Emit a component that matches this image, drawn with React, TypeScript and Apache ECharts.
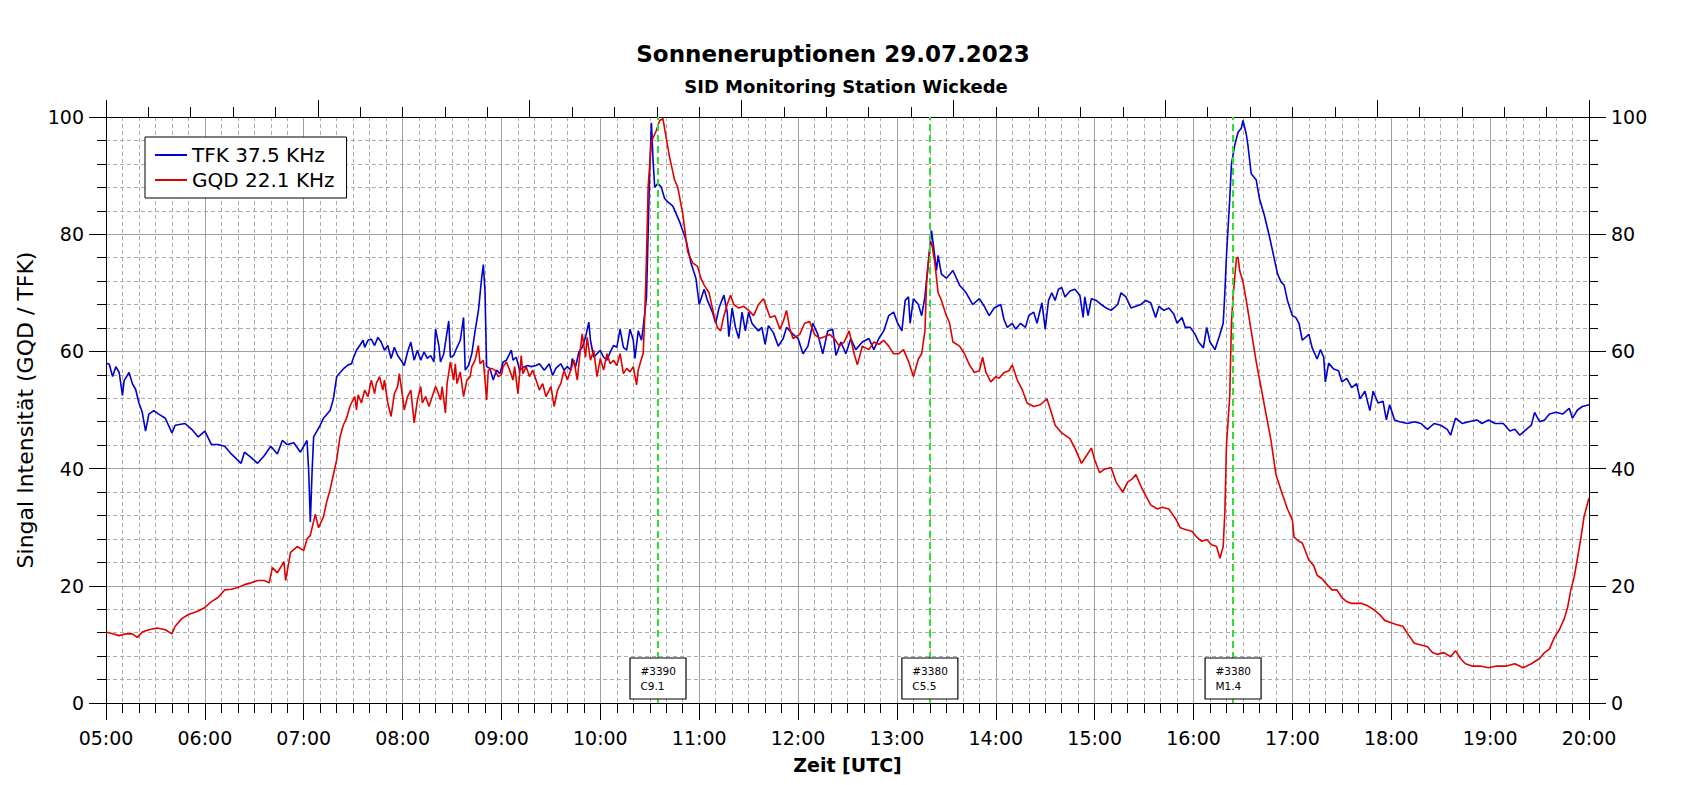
import React, { useEffect, useRef } from 'react';
import * as echarts from 'echarts';

const FONT = '"DejaVu Sans", Verdana, sans-serif';

// TFK 37.5 KHz as [UTC time, intensity]
const tfk: [string, number][] = [
  ['05:00', 58.0], ['05:02', 57.8], ['05:04', 55.7], ['05:06', 57.4], ['05:08', 56.4], ['05:10', 52.5],
  ['05:11', 55.0], ['05:14', 56.4], ['05:16', 54.5], ['05:18', 53.5], ['05:20', 51.2], ['05:22', 49.6],
  ['05:24', 46.4], ['05:26', 49.3], ['05:29', 49.9], ['05:32', 49.3], ['05:36', 48.6], ['05:40', 46.1],
  ['05:42', 47.4], ['05:48', 47.7], ['05:52', 46.7], ['05:56', 45.4], ['06:00', 46.4], ['06:04', 44.1],
  ['06:08', 44.1], ['06:12', 43.8], ['06:16', 42.5], ['06:22', 40.9], ['06:24', 42.8], ['06:28', 41.9],
  ['06:32', 40.9], ['06:36', 42.2], ['06:40', 43.8], ['06:44', 42.5], ['06:47', 44.8], ['06:50', 44.1],
  ['06:54', 44.4], ['06:58', 42.8], ['07:02', 44.8], ['07:03', 39.6], ['07:04', 30.9], ['07:05', 39.0],
  ['07:06', 45.4], ['07:08', 46.4], ['07:10', 47.4], ['07:12', 48.6], ['07:16', 49.9], ['07:18', 51.9],
  ['07:20', 55.7], ['07:24', 57.0], ['07:27', 57.7], ['07:29', 57.9], ['07:30', 58.8], ['07:32', 60.2],
  ['07:34', 61.0], ['07:36', 61.9], ['07:37', 60.7], ['07:39', 61.9], ['07:41', 62.1], ['07:43', 61.0],
  ['07:45', 62.4], ['07:47', 61.6], ['07:49', 60.2], ['07:51', 61.0], ['07:53', 58.8], ['07:55', 60.7],
  ['07:57', 59.3], ['07:59', 58.5], ['08:01', 57.6], ['08:03', 59.9], ['08:05', 61.6], ['08:07', 58.5],
  ['08:09', 60.2], ['08:11', 58.5], ['08:13', 59.9], ['08:15', 58.8], ['08:17', 59.3], ['08:19', 58.2],
  ['08:20', 63.8], ['08:22', 61.0], ['08:23', 58.2], ['08:25', 59.6], ['08:28', 65.2], ['08:29', 59.0],
  ['08:31', 59.3], ['08:33', 60.7], ['08:35', 61.9], ['08:37', 65.8], ['08:38', 56.8], ['08:40', 57.6],
  ['08:42', 59.6], ['08:44', 63.5], ['08:46', 66.9], ['08:48', 72.6], ['08:49', 74.8], ['08:50', 70.3],
  ['08:51', 57.4], ['08:53', 57.1], ['08:55', 55.1], ['08:57', 56.8], ['08:59', 56.2], ['09:01', 58.2],
  ['09:03', 58.5], ['09:06', 60.2], ['09:07', 58.5], ['09:09', 59.0], ['09:11', 56.8], ['09:14', 57.4],
  ['09:16', 57.6], ['09:18', 57.4], ['09:21', 57.6], ['09:23', 57.9], ['09:26', 56.8], ['09:29', 57.9],
  ['09:31', 55.9], ['09:33', 57.1], ['09:36', 57.9], ['09:38', 56.8], ['09:40', 57.4], ['09:42', 56.8],
  ['09:43', 58.8], ['09:45', 57.4], ['09:47', 59.9], ['09:49', 60.7], ['09:51', 62.4], ['09:53', 65.0],
  ['09:54', 61.9], ['09:56', 59.0], ['09:58', 59.6], ['10:00', 60.2], ['10:02', 59.0], ['10:04', 58.5],
  ['10:06', 59.9], ['10:08', 61.0], ['10:10', 60.7], ['10:12', 63.8], ['10:14', 60.7], ['10:16', 60.2],
  ['10:18', 63.8], ['10:20', 61.9], ['10:21', 58.8], ['10:23', 63.5], ['10:25', 61.9], ['10:26', 64.1],
  ['10:28', 69.2], ['10:29', 80.0], ['10:30', 91.3], ['10:31', 99.0], ['10:32', 92.6], ['10:33', 88.0],
  ['10:35', 88.7], ['10:37', 88.0], ['10:39', 86.1], ['10:41', 85.5], ['10:44', 84.8], ['10:48', 82.2],
  ['10:52', 79.0], ['10:55', 75.1], ['10:58', 72.5], ['11:00', 68.0], ['11:03', 70.6], ['11:05', 68.7],
  ['11:08', 66.7], ['11:10', 64.8], ['11:12', 67.4], ['11:15', 69.6], ['11:17', 66.7], ['11:18', 62.5],
  ['11:20', 67.4], ['11:22', 64.1], ['11:24', 62.2], ['11:26', 66.7], ['11:28', 63.5], ['11:30', 66.7],
  ['11:32', 64.8], ['11:34', 64.1], ['11:36', 63.5], ['11:38', 64.1], ['11:40', 61.2], ['11:42', 64.4],
  ['11:45', 63.2], ['11:48', 60.9], ['11:51', 62.2], ['11:53', 64.1], ['11:57', 62.9], ['12:00', 62.2],
  ['12:03', 59.6], ['12:06', 60.9], ['12:09', 64.8], ['12:12', 62.9], ['12:15', 59.6], ['12:18', 63.5],
  ['12:21', 63.8], ['12:23', 59.3], ['12:26', 61.6], ['12:29', 59.6], ['12:32', 62.2], ['12:35', 60.3],
  ['12:39', 61.6], ['12:43', 62.2], ['12:46', 60.3], ['12:49', 62.2], ['12:52', 63.5], ['12:55', 66.1],
  ['12:58', 66.7], ['13:00', 65.1], ['13:03', 63.5], ['13:05', 68.7], ['13:07', 69.3], ['13:08', 64.8],
  ['13:10', 69.0], ['13:13', 68.0], ['13:15', 66.1], ['13:17', 69.3], ['13:19', 75.1], ['13:21', 80.6],
  ['13:22', 78.4], ['13:24', 73.8], ['13:25', 76.4], ['13:27', 73.2], ['13:30', 72.5], ['13:34', 73.8],
  ['13:38', 71.3], ['13:42', 70.0], ['13:46', 68.0], ['13:50', 69.0], ['13:53', 67.7], ['13:56', 66.1],
  ['13:59', 67.4], ['14:03', 68.0], ['14:05', 65.4], ['14:07', 64.1], ['14:10', 64.8], ['14:12', 63.8],
  ['14:15', 64.8], ['14:18', 64.1], ['14:20', 66.1], ['14:23', 66.7], ['14:25', 64.8], ['14:28', 68.3],
  ['14:30', 63.8], ['14:32', 68.7], ['14:34', 70.0], ['14:36', 68.7], ['14:38', 70.6], ['14:40', 70.9],
  ['14:42', 69.3], ['14:45', 70.3], ['14:48', 70.6], ['14:51', 69.6], ['14:53', 65.8], ['14:54', 69.3],
  ['14:56', 66.1], ['14:58', 69.0], ['15:01', 68.7], ['15:04', 68.0], ['15:07', 67.4], ['15:10', 67.0],
  ['15:14', 68.0], ['15:16', 70.0], ['15:19', 69.3], ['15:22', 67.4], ['15:25', 67.7], ['15:28', 68.0],
  ['15:31', 68.7], ['15:34', 68.3], ['15:37', 65.8], ['15:39', 67.7], ['15:42', 67.0], ['15:45', 67.4],
  ['15:48', 66.4], ['15:50', 64.8], ['15:53', 65.8], ['15:55', 64.1], ['15:58', 64.1], ['16:01', 62.9],
  ['16:03', 61.6], ['16:06', 60.6], ['16:08', 64.1], ['16:10', 61.6], ['16:13', 60.3], ['16:16', 62.9],
  ['16:18', 64.8], ['16:19', 70.0], ['16:20', 76.4], ['16:22', 86.1], ['16:23', 91.9], ['16:25', 95.2],
  ['16:27', 97.4], ['16:29', 98.1], ['16:30', 99.4], ['16:32', 97.1], ['16:33', 95.2], ['16:35', 90.3],
  ['16:38', 89.3], ['16:40', 86.1], ['16:43', 83.2], ['16:46', 79.7], ['16:49', 75.8], ['16:51', 73.2],
  ['16:53', 71.9], ['16:55', 71.3], ['16:57', 68.7], ['17:00', 66.1], ['17:02', 65.8], ['17:04', 64.8],
  ['17:06', 61.9], ['17:10', 62.9], ['17:12', 60.6], ['17:15', 58.7], ['17:17', 60.3], ['17:19', 59.0],
  ['17:20', 54.8], ['17:22', 58.0], ['17:25', 57.0], ['17:28', 56.7], ['17:30', 54.8], ['17:33', 55.4],
  ['17:36', 53.8], ['17:39', 54.5], ['17:41', 51.9], ['17:44', 53.2], ['17:47', 49.9], ['17:49', 53.2],
  ['17:52', 51.2], ['17:55', 51.5], ['17:57', 48.3], ['17:59', 50.9], ['18:02', 48.3], ['18:05', 48.0],
  ['18:10', 47.7], ['18:14', 48.0], ['18:18', 47.7], ['18:22', 46.7], ['18:26', 47.7], ['18:30', 47.4],
  ['18:34', 46.7], ['18:36', 45.7], ['18:39', 48.6], ['18:43', 47.7], ['18:47', 48.0], ['18:52', 48.3],
  ['18:55', 47.7], ['18:59', 48.3], ['19:03', 47.7], ['19:08', 47.7], ['19:12', 46.4], ['19:15', 46.7],
  ['19:18', 45.7], ['19:22', 46.7], ['19:25', 47.4], ['19:27', 49.6], ['19:30', 48.0], ['19:33', 48.3],
  ['19:36', 49.3], ['19:40', 49.6], ['19:44', 49.3], ['19:48', 50.3], ['19:50', 48.6], ['19:53', 50.0],
  ['19:56', 50.6], ['20:00', 50.9],
];

// GQD 22.1 KHz
const gqd: [string, number][] = [
  ['05:00', 12.1], ['05:04', 11.8], ['05:08', 11.5], ['05:12', 11.8], ['05:16', 11.8], ['05:19', 11.2],
  ['05:22', 12.1], ['05:26', 12.5], ['05:31', 12.8], ['05:36', 12.5], ['05:40', 11.8], ['05:42', 13.1],
  ['05:46', 14.4], ['05:50', 15.1], ['05:56', 15.7], ['06:00', 16.3], ['06:04', 17.3], ['06:08', 18.0],
  ['06:12', 19.3], ['06:16', 19.4], ['06:20', 19.7], ['06:24', 20.2], ['06:28', 20.5], ['06:32', 20.9],
  ['06:36', 20.9], ['06:39', 20.5], ['06:41', 23.1], ['06:44', 22.2], ['06:48', 24.1], ['06:49', 20.9],
  ['06:52', 25.7], ['06:56', 26.7], ['07:00', 26.0], ['07:02', 28.0], ['07:04', 28.6], ['07:07', 32.2],
  ['07:09', 29.9], ['07:12', 31.8], ['07:14', 34.4], ['07:16', 36.4], ['07:18', 39.0], ['07:20', 41.5],
  ['07:22', 45.4], ['07:24', 47.4], ['07:26', 48.6], ['07:28', 50.6], ['07:29', 51.2], ['07:31', 52.3],
  ['07:32', 50.0], ['07:33', 52.6], ['07:35', 51.2], ['07:37', 53.4], ['07:39', 52.3], ['07:41', 55.1],
  ['07:43', 52.8], ['07:44', 54.5], ['07:46', 55.7], ['07:48', 53.4], ['07:49', 55.1], ['07:51', 51.2],
  ['07:53', 48.9], ['07:55', 52.8], ['07:57', 54.0], ['07:58', 56.2], ['08:00', 52.3], ['08:01', 50.0],
  ['08:03', 52.3], ['08:05', 53.4], ['08:07', 47.8], ['08:09', 51.7], ['08:11', 54.0], ['08:12', 51.2],
  ['08:14', 52.3], ['08:16', 50.6], ['08:18', 52.3], ['08:20', 54.0], ['08:21', 53.4], ['08:23', 51.7],
  ['08:24', 54.0], ['08:26', 49.5], ['08:27', 54.5], ['08:29', 58.2], ['08:31', 55.1], ['08:32', 57.9],
  ['08:33', 54.5], ['08:35', 56.5], ['08:37', 52.3], ['08:39', 55.1], ['08:41', 55.7], ['08:42', 57.4],
  ['08:44', 58.5], ['08:46', 61.0], ['08:47', 57.9], ['08:49', 58.5], ['08:51', 51.7], ['08:52', 56.8],
  ['08:54', 57.1], ['08:56', 56.8], ['08:58', 55.7], ['09:00', 56.0], ['09:01', 57.4], ['09:03', 58.2],
  ['09:05', 56.8], ['09:07', 55.1], ['09:08', 57.4], ['09:10', 52.8], ['09:12', 59.3], ['09:13', 56.2],
  ['09:15', 57.4], ['09:17', 55.7], ['09:19', 56.8], ['09:21', 55.1], ['09:23', 53.4], ['09:25', 54.5],
  ['09:27', 52.3], ['09:30', 54.0], ['09:32', 50.6], ['09:34', 53.4], ['09:36', 54.5], ['09:38', 56.8],
  ['09:40', 55.1], ['09:42', 56.8], ['09:44', 58.5], ['09:46', 55.1], ['09:48', 60.7], ['09:49', 63.0],
  ['09:51', 59.0], ['09:52', 62.4], ['09:54', 58.5], ['09:56', 60.2], ['09:58', 55.7], ['10:00', 58.8],
  ['10:02', 56.8], ['10:04', 59.6], ['10:06', 57.9], ['10:08', 58.5], ['10:10', 57.6], ['10:12', 59.6],
  ['10:14', 56.2], ['10:16', 57.1], ['10:18', 56.5], ['10:20', 57.4], ['10:22', 54.3], ['10:23', 56.8],
  ['10:25', 58.8], ['10:26', 59.6], ['10:27', 66.4], ['10:28', 76.0], ['10:29', 88.0], ['10:31', 95.8],
  ['10:34', 97.7], ['10:36', 99.4], ['10:38', 99.7], ['10:40', 96.4], ['10:42', 93.2], ['10:45', 89.3],
  ['10:47', 88.0], ['10:50', 83.5], ['10:53', 77.0], ['10:56', 75.1], ['10:59', 74.5], ['11:01', 72.5],
  ['11:03', 71.3], ['11:06', 70.0], ['11:09', 66.1], ['11:11', 64.1], ['11:13', 63.5], ['11:15', 66.1],
  ['11:17', 68.0], ['11:19', 69.6], ['11:21', 68.0], ['11:24', 67.4], ['11:27', 67.7], ['11:30', 67.0],
  ['11:33', 66.1], ['11:36', 68.0], ['11:39', 69.0], ['11:41', 67.4], ['11:43', 65.8], ['11:46', 66.1],
  ['11:49', 63.8], ['11:51', 65.1], ['11:53', 67.0], ['11:55', 63.8], ['11:57', 62.2], ['12:01', 62.9],
  ['12:04', 64.8], ['12:07', 65.1], ['12:10', 62.9], ['12:13', 62.2], ['12:16', 62.5], ['12:19', 62.9],
  ['12:22', 62.2], ['12:25', 60.9], ['12:28', 61.6], ['12:31', 63.5], ['12:34', 59.6], ['12:36', 57.7],
  ['12:39', 60.9], ['12:43', 60.3], ['12:46', 61.6], ['12:49', 61.2], ['12:52', 61.9], ['12:55', 60.9],
  ['12:58', 59.6], ['13:01', 59.6], ['13:04', 60.3], ['13:07', 58.3], ['13:10', 55.7], ['13:13', 58.7],
  ['13:15', 59.6], ['13:17', 63.5], ['13:18', 71.9], ['13:20', 77.7], ['13:21', 78.7], ['13:23', 75.1],
  ['13:25', 70.0], ['13:27', 68.7], ['13:30', 66.1], ['13:32', 64.8], ['13:34', 61.6], ['13:38', 60.9],
  ['13:41', 59.6], ['13:44', 57.7], ['13:47', 56.4], ['13:50', 56.7], ['13:52', 59.0], ['13:54', 56.4],
  ['13:57', 54.8], ['14:00', 55.7], ['14:02', 55.4], ['14:05', 56.4], ['14:08', 56.7], ['14:10', 57.7],
  ['14:13', 55.1], ['14:16', 53.5], ['14:19', 51.2], ['14:23', 50.6], ['14:27', 50.9], ['14:31', 51.9],
  ['14:34', 49.3], ['14:36', 47.4], ['14:40', 46.1], ['14:45', 45.1], ['14:48', 43.5], ['14:52', 40.9],
  ['14:55', 42.2], ['14:58', 43.5], ['15:00', 41.5], ['15:03', 39.3], ['15:06', 39.9], ['15:10', 40.2],
  ['15:13', 37.7], ['15:17', 36.0], ['15:20', 37.7], ['15:23', 38.3], ['15:25', 39.0], ['15:28', 37.0],
  ['15:31', 35.4], ['15:34', 33.8], ['15:38', 33.1], ['15:41', 33.4], ['15:45', 33.1], ['15:49', 31.5],
  ['15:52', 29.9], ['15:55', 29.6], ['15:59', 29.3], ['16:02', 28.3], ['16:05', 27.6], ['16:08', 27.9],
  ['16:11', 27.0], ['16:14', 26.7], ['16:16', 24.7], ['16:18', 26.7], ['16:19', 32.5], ['16:20', 44.1],
  ['16:22', 52.5], ['16:23', 64.8], ['16:24', 69.3], ['16:26', 75.8], ['16:27', 76.1], ['16:28', 73.8],
  ['16:30', 71.9], ['16:32', 68.7], ['16:35', 63.5], ['16:38', 58.3], ['16:41', 53.8], ['16:44', 49.3],
  ['16:47', 44.8], ['16:50', 39.0], ['16:53', 36.4], ['16:57', 33.1], ['17:00', 31.2], ['17:01', 28.3],
  ['17:04', 27.6], ['17:06', 27.3], ['17:10', 24.4], ['17:13', 23.4], ['17:15', 21.8], ['17:18', 21.2],
  ['17:21', 20.2], ['17:24', 19.3], ['17:27', 19.3], ['17:30', 18.0], ['17:33', 17.3], ['17:36', 17.0],
  ['17:39', 17.0], ['17:42', 17.0], ['17:45', 16.7], ['17:49', 16.0], ['17:53', 15.1], ['17:56', 14.1],
  ['17:59', 13.8], ['18:03', 13.4], ['18:07', 13.1], ['18:10', 11.8], ['18:14', 10.2], ['18:18', 9.9],
  ['18:22', 9.6], ['18:25', 8.6], ['18:28', 8.3], ['18:32', 8.6], ['18:36', 7.9], ['18:39', 8.9],
  ['18:42', 7.6], ['18:45', 6.7], ['18:49', 6.3], ['18:54', 6.3], ['18:59', 6.0], ['19:04', 6.3],
  ['19:10', 6.3], ['19:15', 6.7], ['19:20', 6.0], ['19:25', 6.7], ['19:30', 7.6], ['19:33', 8.6],
  ['19:36', 9.2], ['19:39', 11.2], ['19:42', 12.5], ['19:45', 14.4], ['19:47', 16.3], ['19:49', 19.3],
  ['19:51', 21.5], ['19:53', 24.7], ['19:55', 28.0], ['19:57', 31.8], ['20:00', 35.0],
];

// flare markers
const flareTimes = ['10:35', '13:20', '16:24'];
const flareRegions = ['#3390', '#3380', '#3380'];
const flareClasses = ['C9.1', 'C5.5', 'M1.4'];

const toHours = (t: string) => {
  const [h, m] = t.split(':').map(Number);
  return h + m / 60;
};

const hourLabel = (v: number) => `${v < 10 ? '0' : ''}${v}:00`;

const axisBlack = { lineStyle: { color: '#000', width: 1 } };

const App: React.FC = () => {
  const chartRef = useRef<HTMLDivElement>(null);

  useEffect(() => {
    if (!chartRef.current) return;
    const chart = echarts.init(chartRef.current, null, { renderer: 'svg' });

    chart.setOption({
      animation: false,
      backgroundColor: '#fff',
      textStyle: { fontFamily: FONT },
      graphic: [
        {
          type: 'text',
          x: 833,
          y: 53.5,
          style: {
            text: 'Sonneneruptionen 29.07.2023',
            fontFamily: FONT,
            fontSize: 23,
            fontWeight: 'bold',
            fill: '#000',
            align: 'center',
            verticalAlign: 'middle',
          },
        },
        {
          type: 'text',
          x: 846,
          y: 86,
          style: {
            text: 'SID Monitoring Station Wickede',
            fontFamily: FONT,
            fontSize: 18,
            fontWeight: 'bold',
            fill: '#000',
            align: 'center',
            verticalAlign: 'middle',
          },
        },
      ],
      grid: { left: 106, right: 103, top: 117, bottom: 82 },
      legend: {
        data: ['TFK 37.5 KHz', 'GQD 22.1 KHz'],
        orient: 'vertical',
        left: 145,
        top: 137,
        padding: [7, 12, 7, 10],
        itemGap: 3,
        itemWidth: 32,
        itemHeight: 2,
        icon: 'rect',
        backgroundColor: '#fff',
        borderColor: '#000',
        borderWidth: 1,
        borderRadius: 0,
        textStyle: { fontFamily: FONT, fontSize: 20, color: '#000', lineHeight: 22 },
      },
      xAxis: [
        {
          type: 'value',
          position: 'bottom',
          min: 5,
          max: 20,
          interval: 1,
          axisLine: { show: true, onZero: false, ...axisBlack },
          axisTick: { show: true, length: 17, ...axisBlack },
          minorTick: { show: true, splitNumber: 6, length: 10, ...axisBlack },
          axisLabel: { formatter: hourLabel, fontFamily: FONT, fontSize: 19, color: '#000', margin: 25 },
          splitLine: { show: true, lineStyle: { color: '#a0a0a0', width: 1 } },
          minorSplitLine: { show: true, lineStyle: { color: '#ababab', width: 1, type: [4, 3] } },
          name: 'Zeit [UTC]',
          nameLocation: 'middle',
          nameGap: 52,
          nameTextStyle: { fontFamily: FONT, fontSize: 19, fontWeight: 'bold', color: '#000' },
        },
        {
          type: 'value',
          position: 'top',
          min: 0,
          max: 35,
          interval: 5,
          axisLine: { show: true, onZero: false, ...axisBlack },
          axisTick: { show: true, length: 17, ...axisBlack },
          minorTick: { show: true, splitNumber: 5, length: 10, ...axisBlack },
          axisLabel: { show: false },
          splitLine: { show: false },
        },
      ],
      yAxis: [
        {
          type: 'value',
          position: 'left',
          min: 0,
          max: 100,
          interval: 20,
          axisLine: { show: true, onZero: false, ...axisBlack },
          axisTick: { show: true, length: 17, ...axisBlack },
          minorTick: { show: true, splitNumber: 5, length: 9, ...axisBlack },
          axisLabel: { fontFamily: FONT, fontSize: 19, color: '#000', margin: 22 },
          splitLine: { show: true, lineStyle: { color: '#a0a0a0', width: 1 } },
          minorSplitLine: { show: true, lineStyle: { color: '#ababab', width: 1, type: [4, 3] } },
          name: 'Singal Intensität (GQD / TFK)',
          nameLocation: 'middle',
          nameGap: 64,
          nameTextStyle: { fontFamily: FONT, fontSize: 22, color: '#000' },
        },
        {
          type: 'value',
          position: 'right',
          min: 0,
          max: 100,
          interval: 20,
          axisLine: { show: true, onZero: false, ...axisBlack },
          axisTick: { show: true, length: 17, ...axisBlack },
          minorTick: { show: true, splitNumber: 5, length: 9, ...axisBlack },
          axisLabel: { fontFamily: FONT, fontSize: 19, color: '#000', margin: 22 },
          splitLine: { show: false },
        },
      ],
      series: [
        {
          name: 'TFK 37.5 KHz',
          type: 'line',
          xAxisIndex: 0,
          yAxisIndex: 0,
          symbol: 'none',
          showSymbol: false,
          data: tfk.map(([t, v]) => [toHours(t), v]),
          lineStyle: { color: '#0000d0', width: 1.6 },
          itemStyle: { color: '#0000d0' },
          z: 3,
        },
        {
          name: 'GQD 22.1 KHz',
          type: 'line',
          xAxisIndex: 0,
          yAxisIndex: 0,
          symbol: 'none',
          showSymbol: false,
          data: gqd.map(([t, v]) => [toHours(t), v]),
          lineStyle: { color: '#e00000', width: 1.6 },
          itemStyle: { color: '#e00000' },
          z: 4,
        },
        {
          name: 'flares',
          type: 'line',
          xAxisIndex: 0,
          yAxisIndex: 0,
          data: [],
          z: 6,
          markLine: {
            silent: true,
            symbol: ['none', 'none'],
            label: { show: false },
            lineStyle: { color: '#33dd33', width: 2, type: [7, 4] },
            data: flareTimes.map((t) => ({ xAxis: toHours(t) })),
          },
          markPoint: {
            silent: true,
            symbol: 'rect',
            symbolSize: [56, 41],
            symbolOffset: [0, -24.5],
            itemStyle: { color: '#fff', borderColor: '#000', borderWidth: 1 },
            label: {
              show: true,
              position: [11, 5.5],
              align: 'left',
              verticalAlign: 'top',
              formatter: '{b}',
              fontFamily: FONT,
              fontSize: 10.5,
              lineHeight: 15.6,
              color: '#000',
            },
            data: flareTimes.map((t, i) => ({
              name: `${flareRegions[i]}\n${flareClasses[i]}`,
              coord: [toHours(t), 0],
            })),
          },
        },
      ],
    });

    return () => {
      chart.dispose();
    };
  }, []);

  return (
    <div
      ref={chartRef}
      style={{ position: 'fixed', left: 0, top: 0, width: '1692px', height: '785px' }}
    ></div>
  );
};

export default App;
